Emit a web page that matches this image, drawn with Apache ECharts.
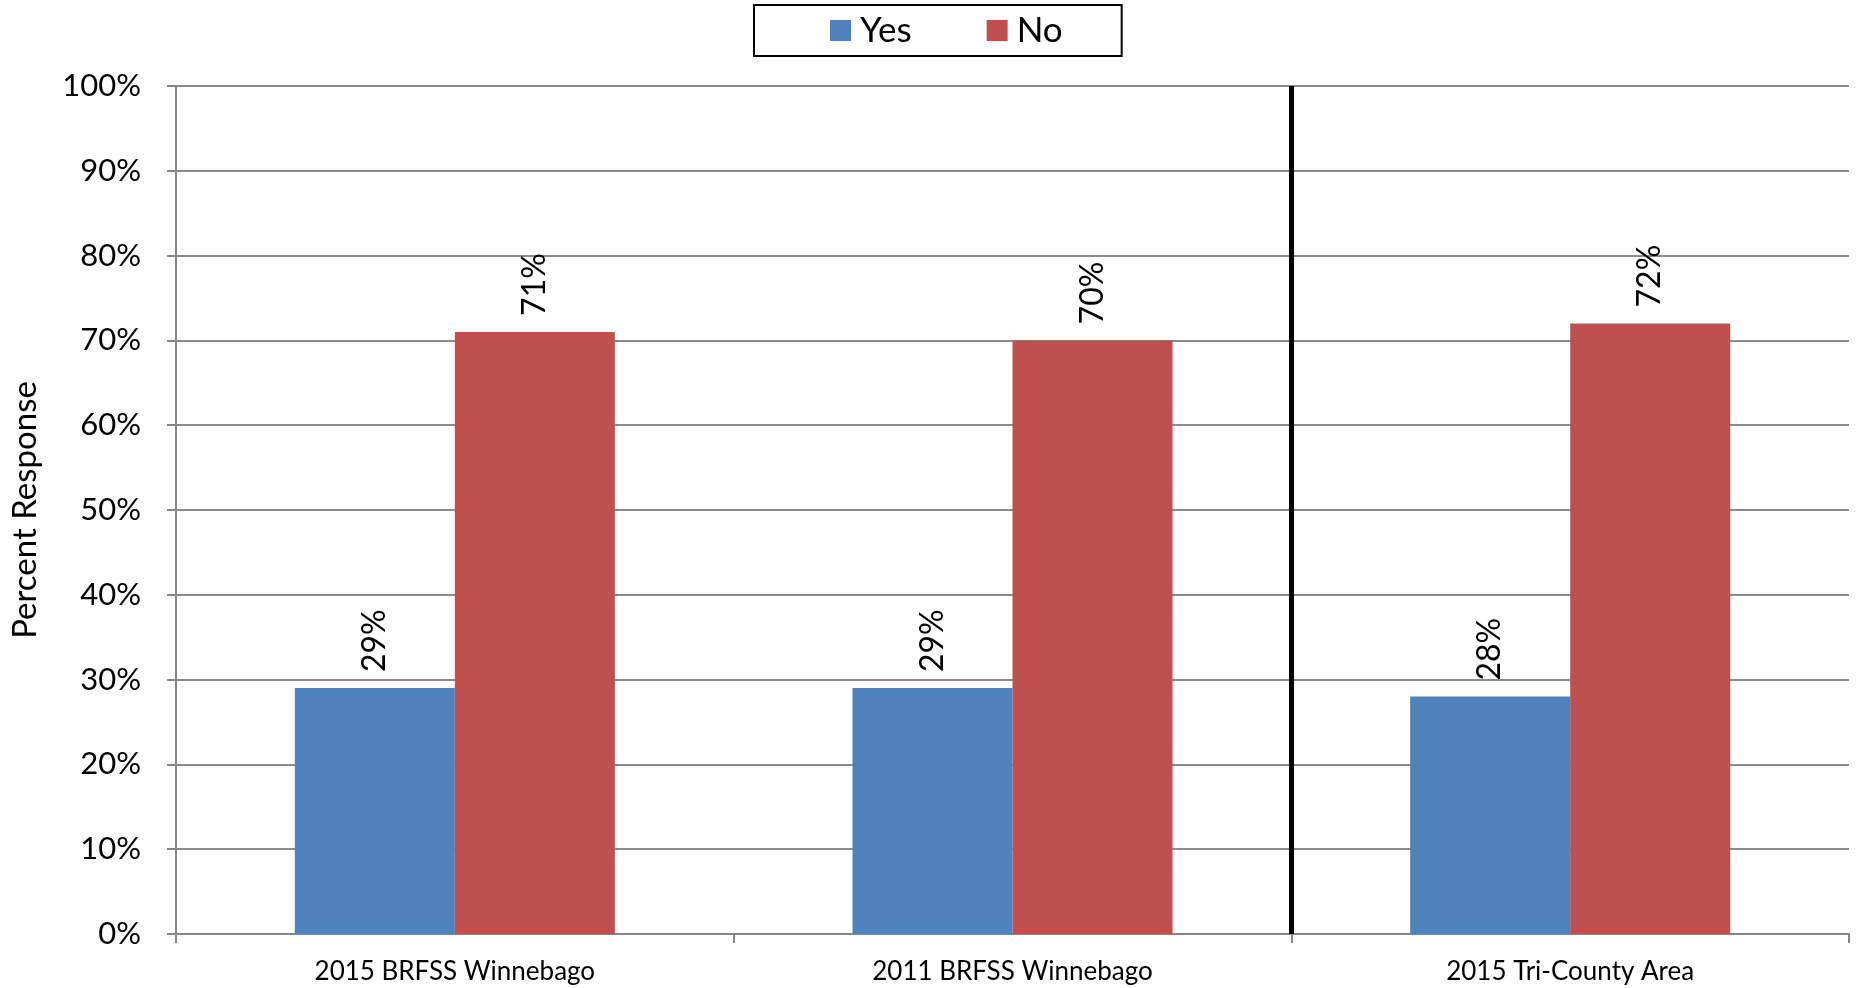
<!DOCTYPE html>
<html>
<head>
<meta charset="utf-8">
<script src="https://cdn.jsdelivr.net/npm/echarts@6/dist/echarts.min.js"></script>
<style>
html, body { margin: 0; padding: 0; background: #fff; }
#chart { width: 1856px; height: 988px; }
</style>
</head>
<body>
<div id="chart"></div>
<script>
var categories = ['2015 BRFSS Winnebago', '2011 BRFSS Winnebago', '2015 Tri-County Area'];
var yesData = [29, 29, 28];
var noData = [71, 70, 72];
var yTicks = [0, 10, 20, 30, 40, 50, 60, 70, 80, 90, 100];
var dividerAt = [2]; // boundary between 2nd and 3rd category

var chart = echarts.init(document.getElementById('chart'));
var font = 'Lato';

var barLabel = {
    show: true,
    position: 'top',
    rotate: 90,
    align: 'left',
    verticalAlign: 'middle',
    distance: 16,
    fontSize: 32,
    fontFamily: font,
    color: '#000',
    formatter: '{c}%'
};

var option = {
    backgroundColor: '#fff',
    textStyle: { fontFamily: font },
    legend: {
        data: ['Yes', 'No'],
        top: 5,
        left: 754,
        padding: [8, 59, 8, 76],
        itemGap: 75,
        itemWidth: 21,
        itemHeight: 21,
        icon: 'rect',
        borderColor: '#000',
        borderWidth: 2,
        textStyle: { fontSize: 35, fontFamily: font, color: '#000', padding: [0, 0, 0, 4] }
    },
    grid: { left: 176, right: 7, top: 86, bottom: 54, containLabel: false, outerBoundsMode: 'none' },
    xAxis: [{
        type: 'category',
        data: categories,
        axisLine: { lineStyle: { color: '#868686', width: 2 } },
        axisTick: { show: true, length: 9, lineStyle: { color: '#868686', width: 2 } },
        axisLabel: { fontSize: 26, fontFamily: font, color: '#000', margin: 25 }
    }, {
        type: 'value',
        min: 0,
        max: categories.length,
        show: false
    }],
    yAxis: {
        type: 'value',
        min: yTicks[0],
        max: yTicks[yTicks.length - 1],
        interval: 10,
        name: 'Percent Response',
        nameLocation: 'middle',
        nameGap: 134,
        nameTextStyle: { fontSize: 33, fontFamily: font, color: '#000' },
        axisLine: { show: true, lineStyle: { color: '#868686', width: 2 } },
        axisTick: { show: true, length: 9, lineStyle: { color: '#868686', width: 2 } },
        axisLabel: { fontSize: 31, fontFamily: font, color: '#000', margin: 35, formatter: '{value}%' },
        splitLine: { lineStyle: { color: '#8c8c8c', width: 2 } }
    },
    series: [{
        name: 'Yes',
        type: 'bar',
        data: yesData,
        barWidth: 160,
        barGap: '0%',
        itemStyle: { color: '#4f81bd' },
        label: barLabel
    }, {
        name: 'No',
        type: 'bar',
        data: noData,
        barWidth: 160,
        barGap: '0%',
        itemStyle: { color: '#c0504d' },
        label: barLabel
    }, {
        name: 'divider',
        type: 'line',
        xAxisIndex: 1,
        data: [],
        markLine: {
            silent: true,
            symbol: 'none',
            label: { show: false },
            lineStyle: { color: '#000', width: 5, type: 'solid' },
            data: dividerAt.map(function (v) { return { xAxis: v }; })
        }
    }]
};

chart.setOption(option);
</script>
</body>
</html>
